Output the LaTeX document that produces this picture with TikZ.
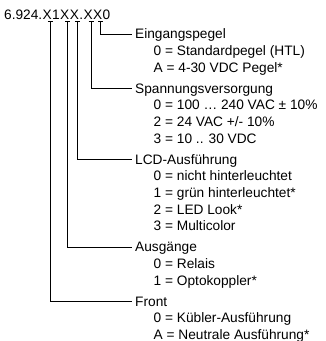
\documentclass[tikz,border=0pt]{standalone}
\usepackage{fontspec}
\setmainfont{Liberation Sans}
\usetikzlibrary{positioning}

\begin{document}
\begin{tikzpicture}[
x=1pt, y=-1pt,
every node/.style={font=\fontsize{13.7}{16.7}\selectfont},
code/.style={
    inner sep=0pt,
    text height=9.8pt,
    text depth=0pt
},
head/.style={
    inner xsep=3pt,
    inner ysep=0pt,
    text height=9.8pt,
    text depth=0pt,
    anchor=west
},
vals/.style={inner sep=0pt, align=left, anchor=base west},
line/.style={line width=0.8pt}
]
\useasboundingbox (0,0) rectangle (325,341);

% Type code
\node[code, anchor=base west] (pre) at (4,19.5) {6.924.};
\node[code, right=0pt of pre] (x1) {X};
\node[code, right=0pt of x1] (one) {1};
\node[code, right=0pt of one] (x2) {X};
\node[code, right=0pt of x2] (x3) {X};
\node[code, right=0pt of x3] (dot) {.};
\node[code, right=0pt of dot] (x4) {X};
\node[code, right=0pt of x4] (x5) {X};
\node[code, right=0pt of x5] (zero) {0};

% Tick points under the X
\coordinate (t1) at ([xshift=3pt, yshift=-1.8pt]x1.south);
\coordinate (t2) at ([xshift=3pt, yshift=-1.8pt]x2.south);
\coordinate (t3) at ([xshift=3pt, yshift=-1.8pt]x3.south);
\coordinate (t4) at ([xshift=3pt, yshift=-1.8pt]x4.south);
\coordinate (t5) at ([xshift=3pt, yshift=-1.8pt]x5.south);

% Headings
\node[head] (eing) at (132,33.9) {Eingangspegel};
\node[head] (spann) at (132,88.2) {Spannungsversorgung};
\node[head] (lcd) at (132,159.2) {LCD-Ausführung};
\node[head] (ausg) at (132,246.9) {Ausgänge};
\node[head] (front) at (132,301.2) {Front};

% Values (base = last line)
\node[vals] (eingvals) at ([xshift=21.5pt, yshift=-33.4pt]eing.base west)
    {0 = Standardpegel (HTL)\\A = 4-30 VDC Pegel*};
\node[vals] (spannvals) at ([xshift=21.5pt, yshift=-50.1pt]spann.base west)
    {0 = 100 … 240 VAC ± 10\%\\2 = 24 VAC +/- 10\%\\3 = 10 .. 30 VDC};
\node[vals] (lcdvals) at ([xshift=21.5pt, yshift=-66.8pt]lcd.base west)
    {0 = nicht hinterleuchtet\\1 = grün hinterleuchtet*\\2 = LED Look*\\3 = Multicolor};
\node[vals] (ausgvals) at ([xshift=21.5pt, yshift=-33.4pt]ausg.base west)
    {0 = Relais\\1 = Optokoppler*};
\node[vals] (frontvals) at ([xshift=21.5pt, yshift=-33.4pt]front.base west)
    {0 = Kübler-Ausführung\\A = Neutrale Ausführung*};

% Ticks
\foreach \t in {t1,t2,t3,t4,t5}
    \draw[line] ([xshift=-2.5pt]\t) -- ([xshift=2.5pt]\t);

% Leaders
\draw[line] (t5) |- (eing.west);
\draw[line] (t4) |- (spann.west);
\draw[line] (t3) |- (lcd.west);
\draw[line] (t2) |- (ausg.west);
\draw[line] (t1) |- (front.west);

\end{tikzpicture}
\end{document}
